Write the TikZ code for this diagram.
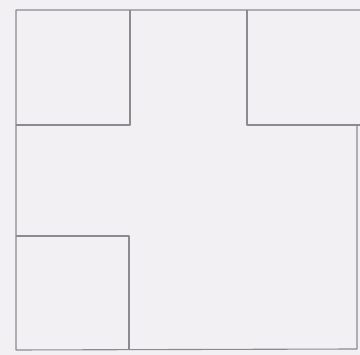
\documentclass[tikz,border=0pt]{standalone}
\usepackage{xcolor}
\definecolor{paper}{HTML}{F3F0F4}
\definecolor{pencil}{HTML}{8C8A8E}
\begin{document}
\begin{tikzpicture}[x=1pt,y=-1pt,
  pencilline/.style={draw=pencil,line width=1.1pt,line join=round}]
\fill[paper] (0,0) rectangle (360,355);
\useasboundingbox (0,0) rectangle (360,355);
% outer outline
\draw[pencilline] (360,10) -- (16,10) -- (16,350) -- (357,349) -- (357,125);
% top-left square
\draw[pencilline] (130,10) -- (130,125) -- (16,125);
% top-right square
\draw[pencilline] (247,10) -- (247,125) -- (360,125);
% bottom-left square
\draw[pencilline] (16,236) -- (129,236) -- (129,350);
\end{tikzpicture}
\end{document}
